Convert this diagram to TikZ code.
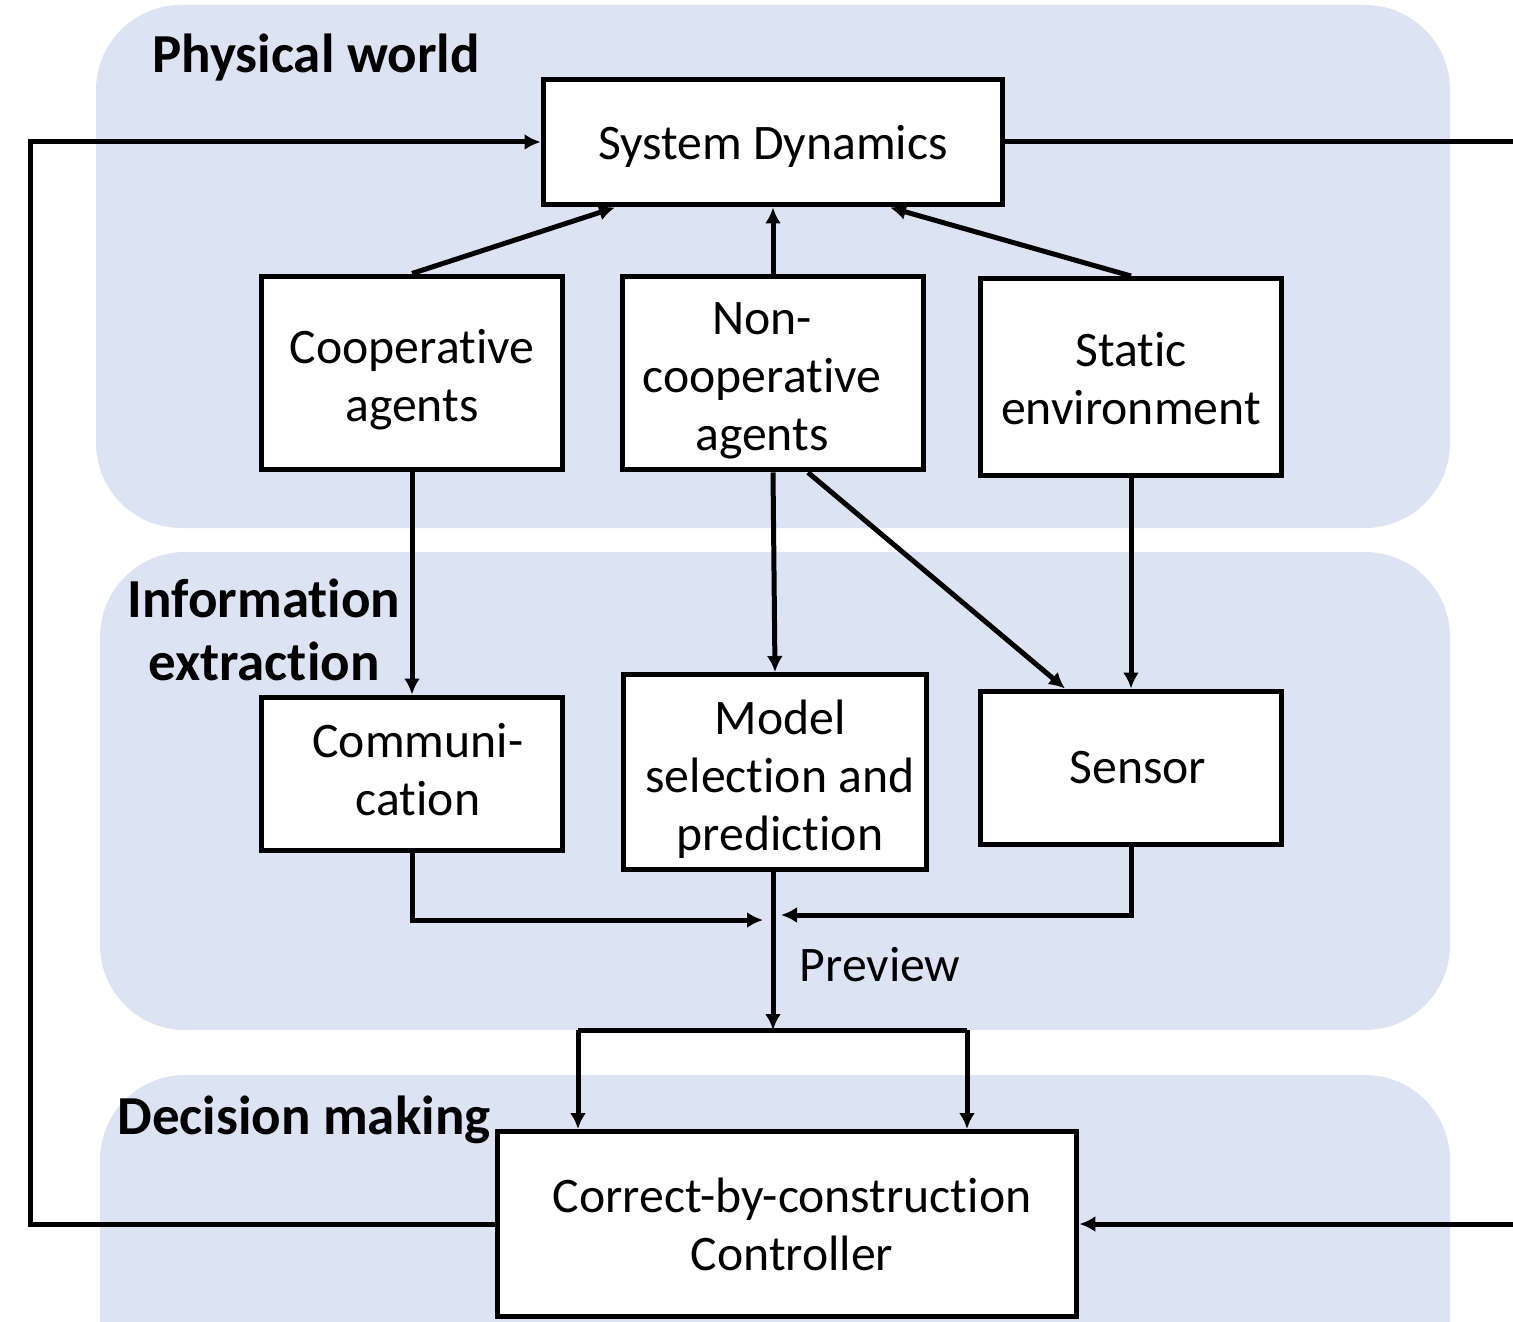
\documentclass[tikz,border=0pt]{standalone}
\usepackage{fontspec}
\setmainfont{Carlito}[Ligatures=NoCommon]
\usetikzlibrary{arrows.meta,calc}
\definecolor{panelblue}{RGB}{220,227,243}
\begin{document}
\begin{tikzpicture}[x=0.02cm,y=-0.02cm,
  box/.style={draw=black,fill=white,line width=0.1cm,inner sep=0pt},
  txt/.style={align=center,inner sep=0pt,font=\fontsize{28.3}{33}\selectfont},
  lbl/.style={align=center,font=\fontsize{31.3}{36}\selectfont\bfseries},
  conn/.style={line width=0.1cm,-{Latex[length=0.32cm,width=0.32cm]}},
  plain/.style={line width=0.1cm},
  panel/.style={fill=panelblue,draw=none,rounded corners=1.7cm}]
\useasboundingbox (0,0) rectangle (1513,1321);
\begin{scope}
\clip (0,0) rectangle (1513,1321);
\fill[panel] (96,5) rectangle (1450,528);
\fill[panel] (100,552) rectangle (1450,1030);
\fill[panel] (100,1075) rectangle (1450,1500);
\end{scope}
\node[lbl] (lphys) at (316,58) {Physical world};
\node[lbl] (linfo) at (264,630) {Information\\extraction};
\node[lbl] (ldec) at (304,1120) {Decision making};

\node[box,minimum width=9.2cm,minimum height=2.52cm,
  label={[txt,yshift=-0.08cm]center:System Dynamics}] (sd) at (773,142) {};
\node[box,minimum width=6.04cm,minimum height=3.88cm,
  label={[txt,yshift=-0.14cm]center:Cooperative\\agents}] (coop) at (412,373) {};
\node[box,minimum width=6.02cm,minimum height=3.88cm,
  label={[txt,yshift=-0.16cm,xshift=-0.22cm]center:Non-\\cooperative\\agents}] (noncoop) at (773,373) {};
\node[box,minimum width=6.02cm,minimum height=3.94cm,
  label={[txt,yshift=-0.04cm]center:Static\\environment}] (static) at (1131,377) {};
\node[box,minimum width=6.04cm,minimum height=3.08cm,
  label={[txt,yshift=0.08cm,xshift=0.12cm]center:Communi-\\cation}] (comm) at (412,774) {};
\node[box,minimum width=6.08cm,minimum height=3.9cm,
  label={[txt,yshift=-0.14cm,xshift=0.1cm]center:Model\\selection and\\prediction}] (model) at (775,772) {};
\node[box,minimum width=6.02cm,minimum height=3.08cm,
  label={[txt,xshift=0.14cm]center:Sensor}] (sensor) at (1131,768) {};
\node[box,minimum width=11.6cm,minimum height=3.7cm,
  label={[txt,xshift=0.1cm]center:Correct-by-construction\\Controller}] (ctrl) at (787,1224) {};
\node[txt] (prev) at (880,965) {Preview};

\coordinate (pl) at (763,920);
\coordinate (pr) at (781,915);
\coordinate (bl) at (578,1030);
\coordinate (br) at (967,1030);
\coordinate (fbx) at (30,1224);
\coordinate (fby) at (30,142);
\coordinate (outr) at (1513,142);
\coordinate (inr) at (1513,1224);

\draw[conn] (coop.north) -- ($(sd.south)+(-158,0)$);
\draw[conn] (noncoop.north) -- (sd.south);
\draw[conn] (static.north) -- ($(sd.south)+(117,0)$);
\draw[conn] (coop.south) -- (comm.north);
\draw[conn] (noncoop.south) -- (model.north);
\draw[conn] ($(noncoop.south)+(35,0)$) -- ($(sensor.north)+(-66,0)$);
\draw[conn] (static.south) -- (sensor.north);
\draw[conn] (comm.south) |- (pl);
\draw[conn] (sensor.south) |- (pr);
\draw[conn] ($(model.south)+(-2,0)$) -- ($(model.south |- bl)+(-2,0)$);
\draw[plain] (bl) -- (br);
\draw[conn] (bl) -- (bl |- ctrl.north);
\draw[conn] (br) -- (br |- ctrl.north);
\draw[conn] (ctrl.west) -- (fbx) -- (fby) -- (sd.west);
\draw[plain] (sd.east) -- (outr);
\draw[conn] (inr) -- (ctrl.east);
\end{tikzpicture}
\end{document}
